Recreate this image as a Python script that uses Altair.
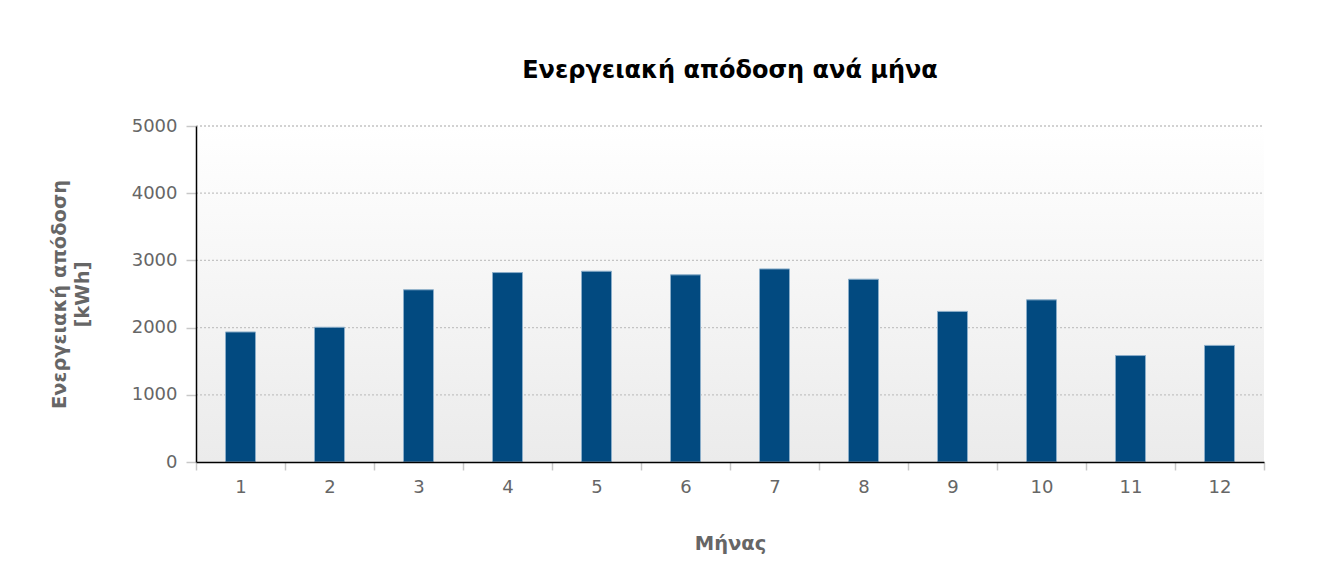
import altair as alt
import pandas as pd

months = ["1", "2", "3", "4", "5", "6", "7", "8", "9", "10", "11", "12"]
energy = [1935, 2005, 2563, 2819, 2839, 2785, 2873, 2720, 2241, 2413, 1584, 1735]
y_ticks = [0, 1000, 2000, 3000, 4000, 5000]
grid_values = [1000, 2000, 3000, 4000, 5000]

df = pd.DataFrame({"month": months, "energy": energy})
grid_df = pd.DataFrame({"energy": grid_values})

FONT = "DejaVu Sans"
W, H = 1068, 336
PAD_L, PAD_T = 41, 51

bg = alt.Chart(pd.DataFrame({"a": [0]})).mark_rect(
    color=alt.LinearGradient(gradient="linear", x1=0, y1=0, x2=0, y2=1,
                             stops=[alt.GradientStop(color="#ffffff", offset=0),
                                    alt.GradientStop(color="#ebebeb", offset=1)])
).encode(x=alt.value(0), x2=alt.value(W), y=alt.value(0), y2=alt.value(H))

grid = alt.Chart(grid_df).mark_rule(
    color="#c4c4c4", strokeDash=[2, 2], strokeWidth=1.3
).encode(
    y=alt.Y("energy:Q", scale=alt.Scale(domain=[0, 5000], nice=False)),
    x=alt.value(0), x2=alt.value(W),
)

bars = alt.Chart(df).mark_bar(
    size=30, color="#024a80", stroke="#8aadc9", strokeWidth=1
).encode(
    x=alt.X("month:O", sort=None,
            scale=alt.Scale(paddingInner=0, paddingOuter=0),
            axis=alt.Axis(title="Μήνας", labelAngle=0, tickBand="extent",
                          domainColor="#000000", domainWidth=1.5,
                          tickColor="#c8c8c8", tickSize=8, tickWidth=1.5,
                          labelColor="#666666", labelFontSize=18, labelFont=FONT,
                          labelPadding=8, zindex=1,
                          titleColor="#666666", titleFontSize=19.5, titleFont=FONT,
                          titleFontWeight="bold", titlePadding=38)),
    y=alt.Y("energy:Q",
            scale=alt.Scale(domain=[0, 5000], nice=False),
            axis=alt.Axis(title=["Ενεργειακή απόδοση", "[kWh]"], values=y_ticks,
                          format="d", grid=False,
                          domainColor="#000000", domainWidth=1.5,
                          tickColor="#c8c8c8", tickSize=10, tickWidth=1.5,
                          labelColor="#666666", labelFontSize=18, labelFont=FONT,
                          labelPadding=9, zindex=1,
                          titleColor="#666666", titleFontSize=19.5, titleFont=FONT,
                          titleFontWeight="bold", titlePadding=39,
                          titleLineHeight=23)),
)

chart = alt.layer(bg, grid, bars).properties(
    width=W,
    height=H,
    title=alt.TitleParams("Ενεργειακή απόδοση ανά μήνα", font=FONT, fontSize=24,
                          fontWeight="bold", color="#000000", offset=34),
    background="#ffffff",
    padding={"left": PAD_L, "top": PAD_T, "right": 40, "bottom": 10},
).configure_view(stroke=None)

chart.save("out.html", embed_options={"renderer": "svg", "actions": False})
